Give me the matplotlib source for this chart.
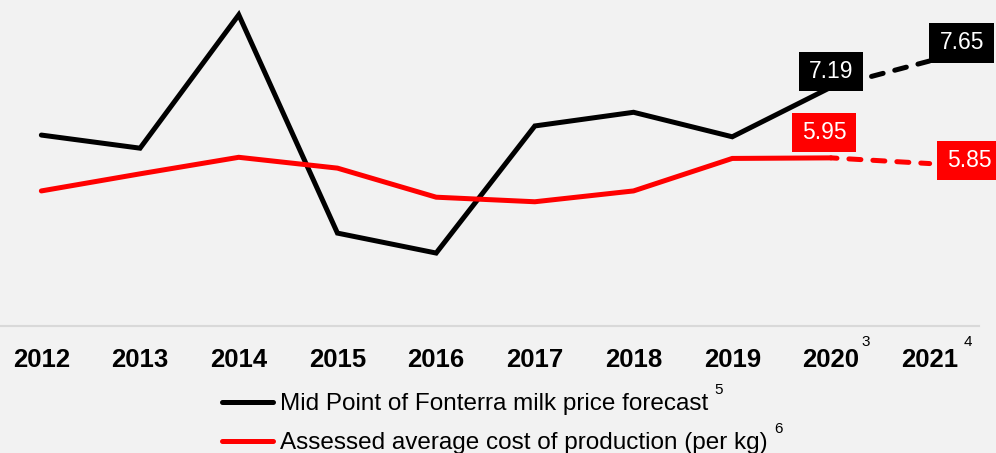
"""Fonterra milk price forecast against the assessed cost of production."""

import matplotlib

matplotlib.use("Agg")

import matplotlib.pyplot as plt
from matplotlib.lines import Line2D

years = ["2012", "2013", "2014", "2015", "2016", "2017", "2018", "2019", "2020", "2021"]
year_notes = {"2020": "3", "2021": "4"}

milk_price = [6.35, 6.12, 8.46, 4.63, 4.28, 6.51, 6.75, 6.32, 7.19, 7.65]
production_cost = [5.37, 5.67, 5.96, 5.77, 5.26, 5.18, 5.37, 5.94, 5.95, 5.85]

# index from which values are forecasts (drawn dashed)
forecast_from = 8

series_labels = [
    "Mid Point of Fonterra milk price forecast",
    "Assessed average cost of production (per kg)",
]
series_notes = ["5", "6"]

BG = "#f2f2f2"
BLACK = "#000000"
RED = "#ff0000"
FONT = "Liberation Sans"

plt.rcParams["font.family"] = [FONT, "DejaVu Sans"]

W, H = 996, 453
fig = plt.figure(figsize=(W / 100, H / 100), dpi=100, facecolor=BG)
ax = fig.add_axes([-8 / W, 127 / H, 987 / W, 326 / H])
ax.set_facecolor(BG)

x = list(range(len(years)))
lw = 3.6

for values, color in [(milk_price, BLACK), (production_cost, RED)]:
    ax.plot(x[: forecast_from + 1], values[: forecast_from + 1], color=color, lw=lw,
            solid_capstyle="round", solid_joinstyle="miter", clip_on=False)
    ax.plot(x[forecast_from:], values[forecast_from:], color=color, lw=lw,
            linestyle=(1.2, (2.4, 2.4)), dash_capstyle="round", clip_on=False)

# value boxes for the last two points of each series
label_offsets = {
    (BLACK, forecast_from): (0, 16),
    (BLACK, forecast_from + 1): (32, 18),
    (RED, forecast_from): (-7, 25),
    (RED, forecast_from + 1): (40, 3),
}
for values, color in [(milk_price, BLACK), (production_cost, RED)]:
    for i in (forecast_from, forecast_from + 1):
        ax.annotate(f"{values[i]:.2f}", xy=(x[i], values[i]),
                    xytext=label_offsets[(color, i)], textcoords="offset pixels",
                    ha="center", va="center", color="white", fontsize=16.5,
                    bbox=dict(boxstyle="square,pad=0.44", fc=color, ec="none",
                              mutation_aspect=0.8),
                    annotation_clip=False)

ax.set_xlim(-0.5, len(years) - 0.5)
ax.set_ylim(3.0, 8.72)
ax.set_xticks(x)
ax.set_xticklabels(years, fontsize=18.5, fontweight="bold")
ax.tick_params(axis="x", length=0, pad=15.5)
ax.set_yticks([])
for side in ("top", "left", "right"):
    ax.spines[side].set_visible(False)
ax.spines["bottom"].set_color("#d9d9d9")
ax.spines["bottom"].set_linewidth(1.5)

handles = [
    Line2D([], [], color=BLACK, lw=lw, solid_capstyle="round"),
    Line2D([], [], color=RED, lw=lw, solid_capstyle="round"),
]
leg = fig.legend(handles, series_labels, loc="upper left",
                 bbox_to_anchor=(222 / W, 1 - 393 / H), frameon=False,
                 fontsize=17.5, handlelength=2.1, handletextpad=0.3,
                 labelspacing=0.7, borderpad=0, borderaxespad=0)

# footnote markers after tick labels and legend entries
fig.canvas.draw()
renderer = fig.canvas.get_renderer()
for label in ax.get_xticklabels():
    note = year_notes.get(label.get_text())
    if note:
        bb = label.get_window_extent(renderer)
        gap = 2 if note == "3" else 5
        fig.text((bb.x1 + gap) / W, (bb.y1 + 13) / H, note, fontsize=11,
                 ha="left", va="top")

for text, note in zip(leg.get_texts(), series_notes):
    bb = text.get_window_extent(renderer)
    fig.text((bb.x1 + 6) / W, (bb.y1 + 10) / H, note, fontsize=11,
             ha="left", va="top")

fig.savefig("out.png", dpi=100, facecolor=BG)
plt.close(fig)
